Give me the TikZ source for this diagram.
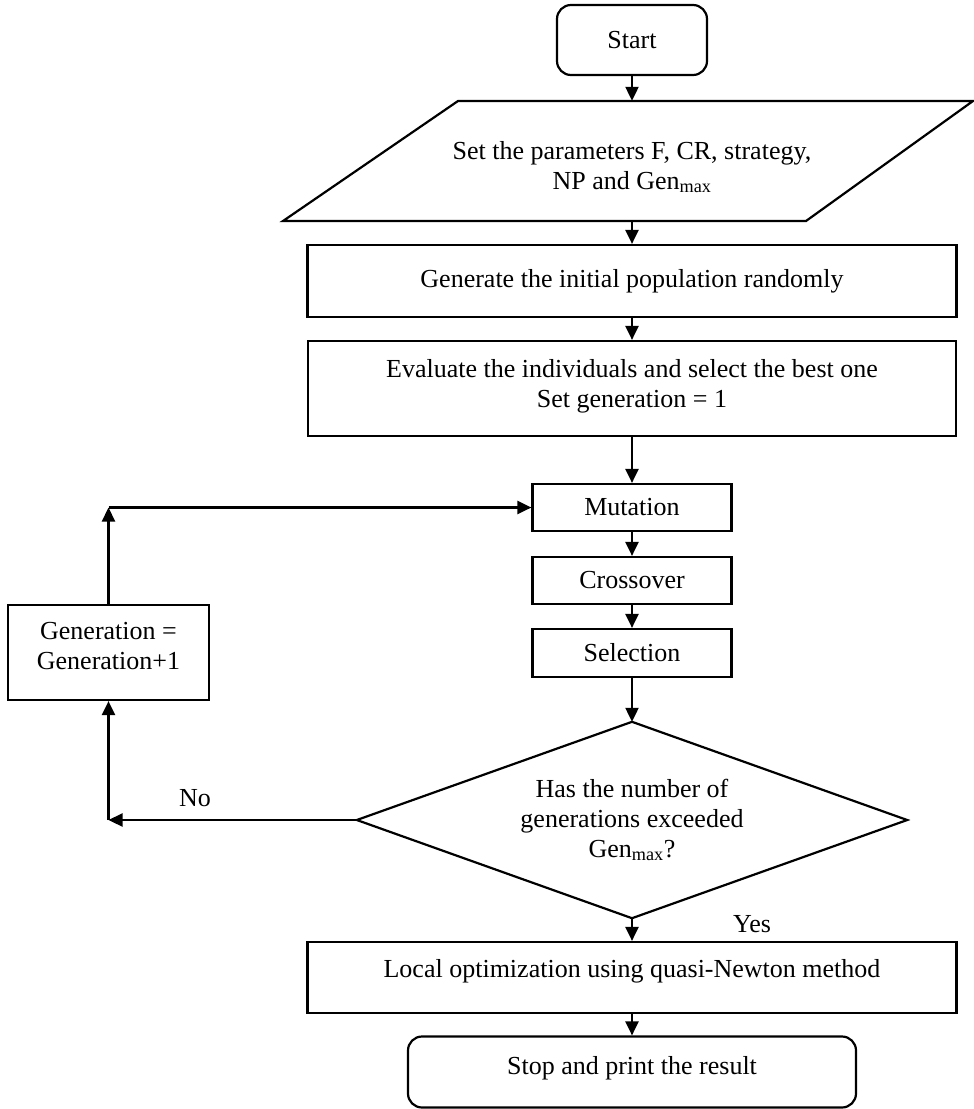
\documentclass[tikz,border=0pt]{standalone}
\usepackage{fontspec}
\setmainfont{Liberation Serif}
\usetikzlibrary{arrows.meta}
\newcommand{\shifttext}[2]{\raisebox{#1}[\height][\depth]{\begin{tabular}{@{}c@{}}#2\end{tabular}}}
\begin{document}
\begin{tikzpicture}[x=1pt,y=-1pt,
  every node/.style={font=\fontsize{26}{30}\selectfont, align=center, inner sep=0pt},
  box/.style={draw, line width=2.2pt, rectangle},
  rbox/.style={draw, line width=2.2pt, rounded corners=14pt},
  ln/.style={line width=2.2pt, line join=miter},
  arr/.style={line width=2.2pt, -{Triangle[length=14pt,width=13pt]}}]
\useasboundingbox (0,0) rectangle (974,1109);

\node[rbox, minimum width=150pt, minimum height=70pt] (start) at (632,40) {Start};

\node[minimum width=523pt, minimum height=120pt] (params) at (632,161)
  {\shifttext{-7pt}{Set the parameters F, CR, strategy,\\NP and Gen\textsubscript{max}}};
\draw[ln] (458,101) -- (973,101) -- (806,221) -- (283,221) -- cycle;

\node[box, minimum width=649pt, minimum height=72pt] (gen) at (632,281)
  {Generate the initial population randomly};
\node[box, minimum width=648pt, minimum height=95pt] (eval) at (632,388.5)
  {\shifttext{2pt}{Evaluate the individuals and select the best one\\Set generation = 1}};
\node[box, minimum width=199pt, minimum height=47pt] (mut) at (632,507.5) {Mutation};
\node[box, minimum width=199pt, minimum height=47pt] (cross) at (632,580.5) {Crossover};
\node[box, minimum width=199pt, minimum height=48pt] (sel) at (632,653) {Selection};

\node[minimum width=550pt, minimum height=196pt] (dec) at (632,820)
  {Has the number of\\generations exceeded\\Gen\textsubscript{max}?};
\draw[ln] (dec.north) -- (dec.east) -- (dec.south) -- (dec.west) -- cycle;

\node[box, minimum width=201pt, minimum height=95pt] (genbox) at (108.5,652.5)
  {\shifttext{4pt}{Generation =\\Generation+1}};

\node[box, minimum width=649pt, minimum height=71pt] (local) at (632,977.5)
  {\shifttext{6pt}{Local optimization using quasi-Newton method}};
\node[rbox, minimum width=448pt, minimum height=71pt] (stop) at (632,1072)
  {\shifttext{4pt}{Stop and print the result}};

\node (no) at (195,798) {No};
\node (yes) at (752,924) {Yes};

\draw[arr] (start.south) -- (params.north);
\draw[arr] (params.south) -- (gen.north);
\draw[arr] (gen) -- (eval);
\draw[arr] (eval) -- (mut);
\draw[arr] (mut) -- (cross);
\draw[arr] (cross) -- (sel);
\draw[arr] (sel) -- (dec.north);
\draw[arr] (dec.south) -- (local);
\draw[arr] (local) -- (stop);

\coordinate (nocorner) at (genbox.center |- dec.west);
\coordinate (topcorner) at (genbox.center |- mut.west);
\draw[arr] (dec.west) -- (nocorner);
\draw[arr] (nocorner) -- (genbox.south);
\draw[arr] (genbox.north) -- (topcorner);
\draw[arr] (topcorner) -- (mut.west);
\end{tikzpicture}
\end{document}
